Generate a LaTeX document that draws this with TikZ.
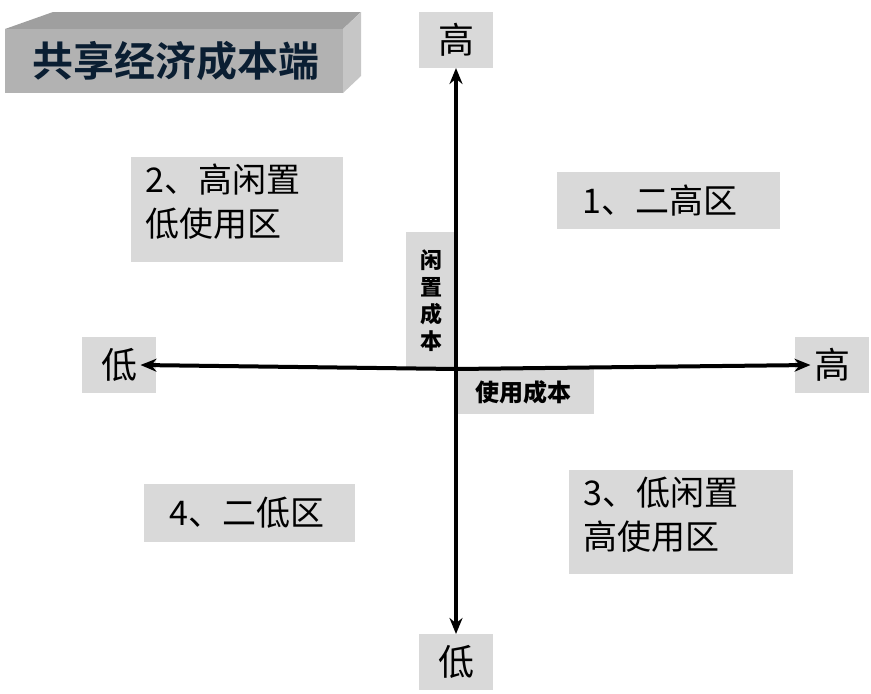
\documentclass[tikz,border=0pt]{standalone}
\usepackage{fontspec}
\setmainfont{Noto Sans CJK SC}
\newfontfamily\cjkb{Noto Sans CJK SC Bold}
\usetikzlibrary{arrows.meta}
\definecolor{lg}{RGB}{217,217,217}
\definecolor{navy}{RGB}{10,30,50}
\tikzset{gb/.style={fill=lg,draw=none},
 lbl/.style={font=\fontsize{34}{40}\selectfont,anchor=center},
 big/.style={font=\fontsize{36}{40}\selectfont,anchor=center},
 ax/.style={line width=4pt,-{Stealth[length=16pt,width=13pt]}}}
\begin{document}
\begin{tikzpicture}[x=1pt,y=-1pt]
\useasboundingbox (0,0) rectangle (871,694);
% title
\fill[gray!75] (5,29) -- (53,12) -- (361,12) -- (343,29) -- cycle;
\fill[gray!45] (343,29) -- (361,12) -- (361,76) -- (343,93) -- cycle;
\fill[gray!60] (5,29) rectangle (343,93);
\node[font=\cjkb\fontsize{41}{44}\selectfont,text=navy] (title) at (176,61) {共享经济成本端};
% boxes
\fill[gb] (419,12) rectangle (493,68); \node[big] (ht) at (456,40) {高};
\fill[gb] (795,337) rectangle (869,393); \node[big] (hr) at (832,365) {高};
\fill[gb] (82,337) rectangle (156,393); \node[big] (ll) at (119,365) {低};
\fill[gb] (419,634) rectangle (493,690); \node[big] (lb) at (456,662) {低};
\fill[gb] (131,157) rectangle (343,262);
\node[lbl,anchor=north west,align=left,font=\fontsize{34}{44}\selectfont] (q2) at (142,160) {2、高闲置\\低使用区};
\fill[gb] (557,172) rectangle (780,229); \node[lbl] (q1) at (660,201) {1、二高区};
\fill[gb] (144,484) rectangle (355,542); \node[lbl] (q4) at (247,513) {4、二低区};
\fill[gb] (569,470) rectangle (793,574);
\node[lbl,anchor=north west,align=left,font=\fontsize{34}{44}\selectfont] (q3) at (580,473) {3、低闲置\\高使用区};
\fill[gb] (406,232) rectangle (456,368);
\node[font=\bfseries\fontsize{22}{27}\selectfont,align=center] (vy) at (431,301) {闲\\置\\成\\本};
\fill[gb] (456,369) rectangle (594,414);
\node[font=\bfseries\fontsize{24}{26}\selectfont] (vx) at (523,392) {使用成本};
% axes
\coordinate (o) at (456,369);
\draw[ax] (o) -- (ll.east);
\draw[ax] (o) -- (hr.west);
\draw[ax] (o) -- (456,68);
\draw[ax] (o) -- (456,634);
\end{tikzpicture}
\end{document}
